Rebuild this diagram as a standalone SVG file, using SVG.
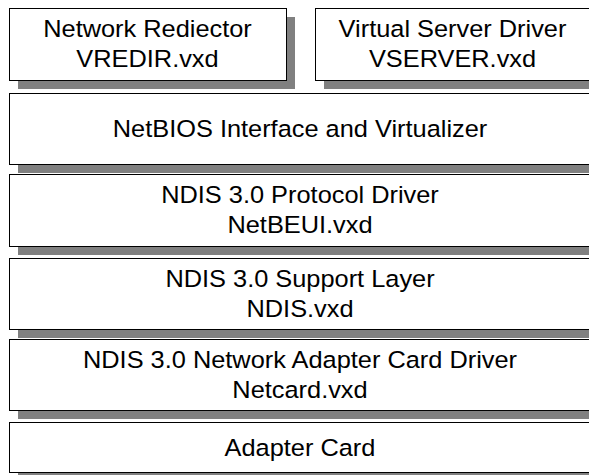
<svg xmlns="http://www.w3.org/2000/svg" width="589" height="475" viewBox="0 0 589 475">
  <style>
    .shadow { fill: #808080; }
    .box { fill: #ffffff; stroke: #000000; stroke-width: 1; }
    .lbl { font-family: "Liberation Sans", Arial, sans-serif; font-size: 23.5px; fill: #000000; text-anchor: middle; }
  </style>
  <rect width="589" height="475" fill="#ffffff"/>

  <g id="vredir">
    <rect class="shadow" x="18" y="17" width="277" height="72"/>
    <rect class="box" x="9.5" y="8.5" width="277" height="72"/>
    <text class="lbl" transform="translate(147.5 36.5) scale(1.08 1)">Network Rediector</text>
    <text class="lbl" transform="translate(147.5 66.5) scale(1.08 1)">VREDIR.vxd</text>
  </g>

  <g id="vserver">
    <rect class="shadow" x="324" y="17" width="276" height="72"/>
    <rect class="box" x="315.5" y="8.5" width="276" height="72"/>
    <text class="lbl" transform="translate(452.5 36.5) scale(1.08 1)">Virtual Server Driver</text>
    <text class="lbl" transform="translate(452.5 66.5) scale(1.08 1)">VSERVER.vxd</text>
  </g>

  <g id="netbios">
    <rect class="shadow" x="18" y="102" width="582" height="71"/>
    <rect class="box" x="9.5" y="93.5" width="582" height="71"/>
    <text class="lbl" transform="translate(300 136.5) scale(1.08 1)">NetBIOS Interface and Virtualizer</text>
  </g>

  <g id="netbeui">
    <rect class="shadow" x="18" y="183" width="582" height="72"/>
    <rect class="box" x="9.5" y="174.5" width="582" height="72"/>
    <text class="lbl" transform="translate(300 202.5) scale(1.08 1)">NDIS 3.0 Protocol Driver</text>
    <text class="lbl" transform="translate(300 232.5) scale(1.08 1)">NetBEUI.vxd</text>
  </g>

  <g id="ndis">
    <rect class="shadow" x="18" y="267" width="582" height="71"/>
    <rect class="box" x="9.5" y="258.5" width="582" height="71"/>
    <text class="lbl" transform="translate(300 286.5) scale(1.08 1)">NDIS 3.0 Support Layer</text>
    <text class="lbl" transform="translate(300 316.5) scale(1.08 1)">NDIS.vxd</text>
  </g>

  <g id="netcard">
    <rect class="shadow" x="18" y="348" width="582" height="71"/>
    <rect class="box" x="9.5" y="339.5" width="582" height="71"/>
    <text class="lbl" transform="translate(300 367.5) scale(1.08 1)">NDIS 3.0 Network Adapter Card Driver</text>
    <text class="lbl" transform="translate(300 397.5) scale(1.08 1)">Netcard.vxd</text>
  </g>

  <g id="adapter">
    <rect class="shadow" x="18" y="431" width="582" height="50"/>
    <rect class="box" x="9.5" y="422.5" width="582" height="50"/>
    <text class="lbl" transform="translate(300 455.5) scale(1.08 1)">Adapter Card</text>
  </g>

  <g id="connectors"/>
</svg>
